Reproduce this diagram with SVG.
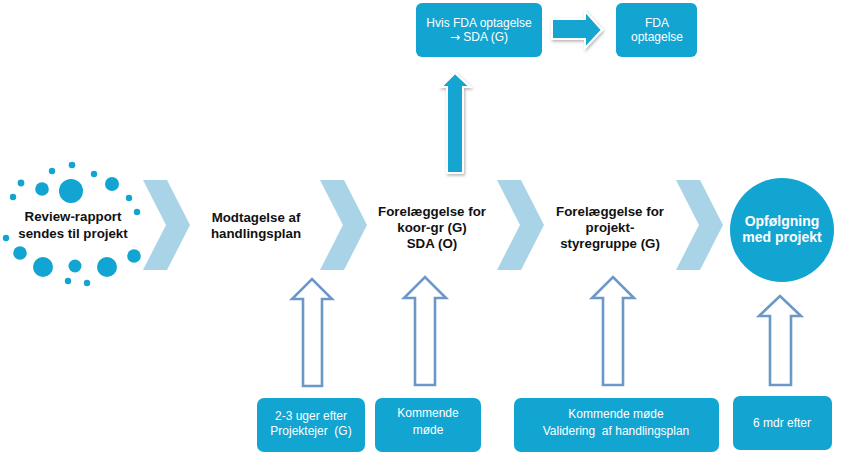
<svg xmlns="http://www.w3.org/2000/svg" width="845" height="457" viewBox="0 0 845 457">
<defs>
<style>
.box{fill:#12A5D1}
.dot{fill:#12A5D1}
.chev{fill:#A9D3E6}
.out{fill:#fff;stroke:#6C98C8;stroke-width:2.6;stroke-linejoin:miter}
.solid{fill:#12A5D1;stroke:#fff;stroke-width:2}
.bt{font-family:"Liberation Sans",Arial,sans-serif;font-weight:bold;font-size:13.3px;fill:#111;text-anchor:middle}
.wt{font-family:"Liberation Sans",Arial,sans-serif;font-size:12px;fill:#fff;text-anchor:middle;white-space:pre}
.ct{font-family:"Liberation Sans",Arial,sans-serif;font-weight:bold;font-size:14px;fill:#fff;text-anchor:middle}
.ar{font-family:"DejaVu Sans",sans-serif}
</style>
<filter id="sh" x="-30%" y="-30%" width="160%" height="160%">
<feDropShadow dx="1" dy="1.5" stdDeviation="1.5" flood-color="#000" flood-opacity="0.3"/>
</filter>
</defs>

<g id="connectors">
<polygon class="chev" points="143,180 167,180 190,225 167,270 143,270 166,225"/>
<polygon class="chev" points="320,180 344,180 367,225 344,270 320,270 343,225"/>
<polygon class="chev" points="497,180 521,180 544,225 521,270 497,270 520,225"/>
<polygon class="chev" points="676,180 700,180 723,225 700,270 676,270 699,225"/>
<polygon class="solid" filter="url(#sh)" points="447,173 447,87 441,87 455,73 470,87 463,87 463,173"/>
<polygon class="solid" filter="url(#sh)" points="552,19 585,19 585,11 602,30 585,48 585,39 552,39"/>
<polygon class="out" points="303,386 303,299 292,299 312,279 332,299 322,299 322,386"/>
<polygon class="out" points="415,385 415,298 404,298 425,277 446,298 435,298 435,385"/>
<polygon class="out" points="603,385 603,298 592,298 613,277 634,298 623,298 623,385"/>
<polygon class="out" points="770,385 770,316 759,316 780,296 801,316 791,316 791,385"/>
</g>

<g id="review">
<circle class="dot" cx="72" cy="165" r="3.3"/>
<circle class="dot" cx="52" cy="171" r="3.2"/>
<circle class="dot" cx="94" cy="174" r="3.2"/>
<circle class="dot" cx="21" cy="183" r="3.4"/>
<circle class="dot" cx="71" cy="191" r="12"/>
<circle class="dot" cx="112" cy="184" r="7"/>
<circle class="dot" cx="42" cy="189" r="6.8"/>
<circle class="dot" cx="13" cy="197" r="3.2"/>
<circle class="dot" cx="129" cy="198" r="3.2"/>
<circle class="dot" cx="137" cy="212" r="3.2"/>
<circle class="dot" cx="6" cy="238" r="3.2"/>
<circle class="dot" cx="20" cy="253" r="6.8"/>
<circle class="dot" cx="43" cy="267" r="10"/>
<circle class="dot" cx="75" cy="266" r="6.5"/>
<circle class="dot" cx="107" cy="267" r="10"/>
<circle class="dot" cx="134" cy="256" r="6.8"/>
<circle class="dot" cx="68" cy="281" r="3.2"/>
<circle class="dot" cx="87" cy="283" r="3.2"/>
<text class="bt" x="73" y="221">Review-rapport</text>
<text class="bt" x="73" y="238">sendes til projekt</text>
</g>

<g id="modtagelse">
<text class="bt" x="256" y="222">Modtagelse af</text>
<text class="bt" x="256" y="238">handlingsplan</text>
</g>

<g id="koor">
<text class="bt" x="432" y="216">Forelæggelse for</text>
<text class="bt" x="432" y="232">koor-gr (G)</text>
<text class="bt" x="432" y="248">SDA (O)</text>
</g>

<g id="styregruppe">
<text class="bt" x="610" y="216">Forelæggelse for</text>
<text class="bt" x="610" y="232">projekt-</text>
<text class="bt" x="610" y="248">styregruppe (G)</text>
</g>

<g id="opfoelgning">
<circle class="box" cx="782" cy="230" r="52"/>
<text class="ct" x="782" y="226">Opfølgning</text>
<text class="ct" x="782" y="242">med projekt</text>
</g>

<g id="hvis-fda">
<rect class="box" x="416" y="3" width="126" height="54" rx="6"/>
<text class="wt" x="479" y="27">Hvis FDA optagelse</text>
<text class="wt" x="479" y="41"><tspan class="ar">→</tspan> SDA (G)</text>
</g>

<g id="fda">
<rect class="box" x="616" y="3" width="81" height="54" rx="6"/>
<text class="wt" x="657" y="27">FDA</text>
<text class="wt" x="657" y="41">optagelse</text>
</g>

<g id="uger">
<rect class="box" x="257" y="398" width="108" height="54" rx="7"/>
<text class="wt" x="311" y="420">2-3 uger efter</text>
<text class="wt" x="311" y="435" xml:space="preserve">Projektejer  (G)</text>
</g>

<g id="kommende">
<rect class="box" x="375" y="398" width="106" height="54" rx="7"/>
<text class="wt" x="428" y="417">Kommende</text>
<text class="wt" x="428" y="434">møde</text>
</g>

<g id="validering">
<rect class="box" x="514" y="398" width="205" height="54" rx="7"/>
<text class="wt" x="616" y="418">Kommende møde</text>
<text class="wt" x="616" y="435" xml:space="preserve">Validering  af handlingsplan</text>
</g>

<g id="mdr">
<rect class="box" x="733" y="396" width="99" height="54" rx="7"/>
<text class="wt" x="782" y="427">6 mdr efter</text>
</g>
</svg>
